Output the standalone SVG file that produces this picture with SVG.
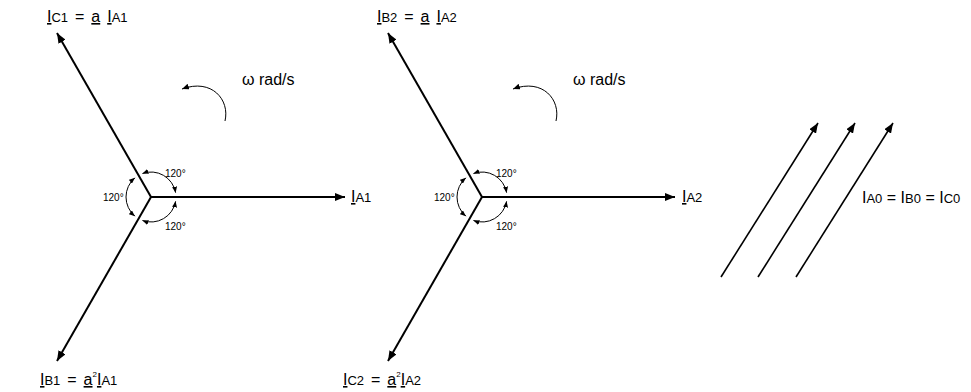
<svg xmlns="http://www.w3.org/2000/svg" width="971" height="392" viewBox="0 0 971 392">
<style>
text{font-family:"Liberation Sans",Arial,sans-serif;font-size:16px;fill:#000}
.lab{word-spacing:2.5px}
.sub{font-size:13px}
.sup{font-size:8px}
.u{text-decoration:underline}
.deg{font-size:10px;word-spacing:0}
.ph{stroke:#000;stroke-width:2;fill:none;marker-end:url(#ah)}
.z{stroke:#000;stroke-width:1.6;fill:none;marker-end:url(#ah)}
.ang{stroke:#000;stroke-width:1;fill:none;marker-start:url(#sa);marker-end:url(#sa)}
.rot{stroke:#000;stroke-width:1;fill:none;marker-end:url(#ra)}
</style>
<defs>
<marker id="ah" viewBox="0 0 10 8" refX="10" refY="4" markerWidth="10" markerHeight="8" markerUnits="userSpaceOnUse" orient="auto"><path d="M0,0 L10,4 L0,8 z" fill="#000"/></marker>
<marker id="sa" viewBox="0 0 6 5" refX="6" refY="2.5" markerWidth="6" markerHeight="5" markerUnits="userSpaceOnUse" orient="auto-start-reverse"><path d="M0,0 L6,2.5 L0,5 z" fill="#000"/></marker>
<marker id="ra" viewBox="0 0 7 6" refX="7" refY="3" markerWidth="7" markerHeight="6" markerUnits="userSpaceOnUse" orient="auto"><path d="M0,0 L7,3 L0,6 z" fill="#000"/></marker>
<g id="angles">
<path class="ang" d="M142.45,173.51 A25,25 0 0 1 175.62,192.66"/>
<path class="ang" d="M134.93,177.85 A25,25 0 0 0 134.93,216.15"/>
<path class="ang" d="M142.45,220.49 A25,25 0 0 0 175.62,201.34"/>
<text class="deg" x="165" y="177">120°</text>
<text class="deg" x="103" y="201">120°</text>
<text class="deg" x="165" y="230">120°</text>
</g>
</defs>
<g id="connectors">
<line class="ph" x1="151" y1="197" x2="345" y2="197"/>
<line class="ph" x1="151" y1="197" x2="57" y2="33"/>
<line class="ph" x1="151" y1="197" x2="57" y2="361"/>
<line class="ph" x1="482" y1="197" x2="675" y2="197"/>
<line class="ph" x1="482" y1="197" x2="388" y2="33"/>
<line class="ph" x1="482" y1="197" x2="388" y2="361"/>
<line class="z" x1="721" y1="277" x2="818" y2="123"/>
<line class="z" x1="758" y1="277" x2="855" y2="123"/>
<line class="z" x1="796" y1="277" x2="893" y2="123"/>
<path class="rot" d="M225,121 C230,100 212,78 182,89"/>
<path class="rot" d="M556,121 C561,100 543,78 513,89"/>
</g>
<g id="positive-sequence">
<use href="#angles"/>
<text class="lab" x="47" y="22"><tspan class="u">I</tspan><tspan class="sub">C1</tspan> = <tspan class="u">a</tspan> <tspan class="u">I</tspan><tspan class="sub">A1</tspan></text>
<text x="351" y="202"><tspan class="u">I</tspan><tspan class="sub">A1</tspan></text>
<text class="lab" x="40" y="385"><tspan class="u">I</tspan><tspan class="sub">B1</tspan> = <tspan class="u">a</tspan><tspan class="sup" dy="-8">2</tspan><tspan class="u" dy="8">I</tspan><tspan class="sub">A1</tspan></text>
<text x="242" y="85">ω rad/s</text>
</g>
<g id="negative-sequence">
<use href="#angles" transform="translate(331,0)"/>
<text class="lab" x="377" y="22"><tspan class="u">I</tspan><tspan class="sub">B2</tspan> = <tspan class="u">a</tspan> <tspan class="u">I</tspan><tspan class="sub">A2</tspan></text>
<text x="682" y="202"><tspan class="u">I</tspan><tspan class="sub">A2</tspan></text>
<text class="lab" x="343" y="385"><tspan class="u">I</tspan><tspan class="sub">C2</tspan> = <tspan class="u">a</tspan><tspan class="sup" dy="-8">2</tspan><tspan class="u" dy="8">I</tspan><tspan class="sub">A2</tspan></text>
<text x="573" y="85">ω rad/s</text>
</g>
<g id="zero-sequence">
<text x="862" y="203">I<tspan class="sub">A0</tspan> = I<tspan class="sub">B0</tspan> = I<tspan class="sub">C0</tspan></text>
</g>
</svg>
